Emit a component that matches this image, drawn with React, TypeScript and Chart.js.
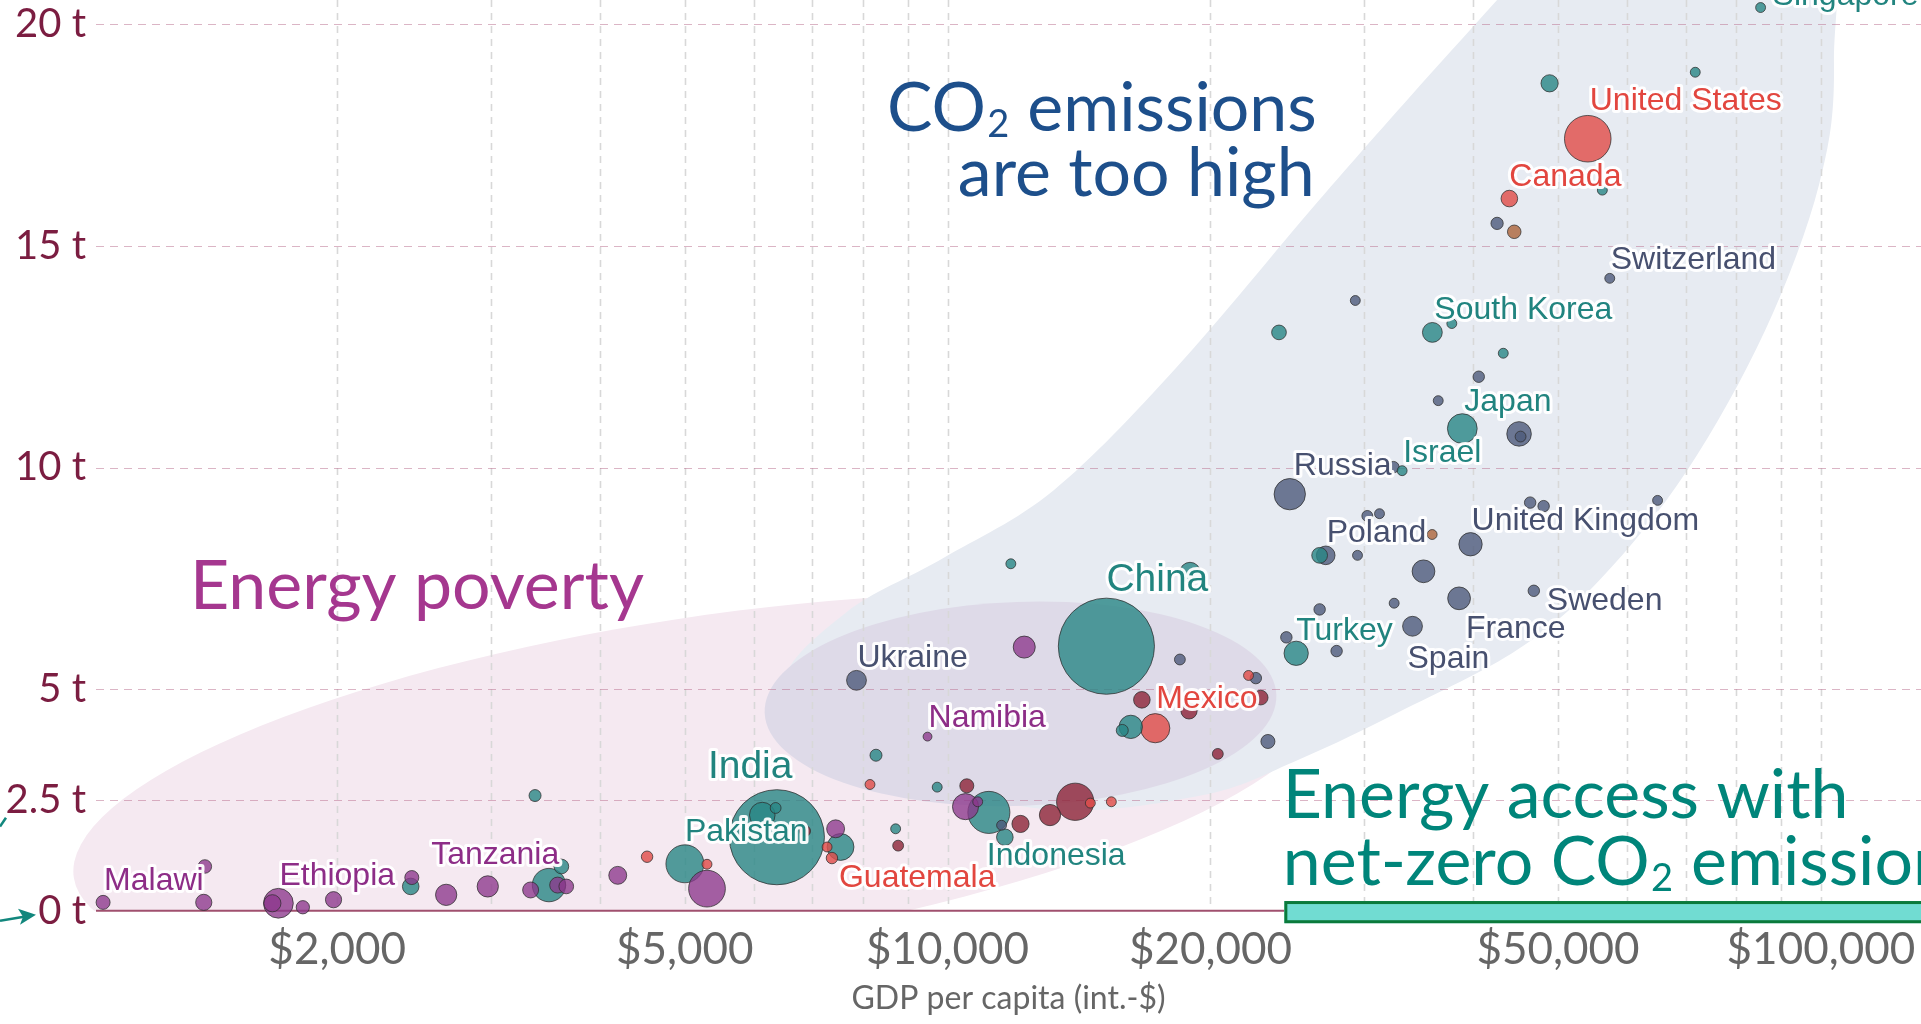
import React, { useEffect, useRef } from "react";
import { Chart, registerables } from "chart.js";

Chart.register(...registerables);

// ---------------- data ----------------
const countries: string[] = [
  // Asia
  "Singapore", "", "", "", "", "South Korea", "", "", "Japan", "Israel", "", "", "", "Turkey", "China", "", "", "", "", "Indonesia", "", "India", "", "", "", "", "Pakistan", "", "", "", "",
  // Europe
  "", "Switzerland", "", "", "", "", "", "", "Russia", "", "", "", "", "", "United Kingdom", "Poland", "", "", "Sweden", "France", "", "", "Spain", "", "", "", "Ukraine", "", "", "",
  // North America
  "United States", "Canada", "Mexico", "", "", "", "", "", "Guatemala", "", "",
  // South America
  "", "", "", "", "", "", "", "", "", "",
  // Africa
  "", "Namibia", "", "", "", "", "", "", "", "", "", "Tanzania", "", "", "Ethiopia", "", "", "", "", "Malawi",
  // Oceania
  "", "",
];

const region: string[] = [
  ...Array(31).fill("AS"),
  ...Array(30).fill("EU"),
  ...Array(11).fill("NA"),
  ...Array(10).fill("SA"),
  ...Array(20).fill("AF"),
  ...Array(2).fill("OC"),
];

const gdpPerCapita: number[] = [
  // Asia
  85300, 48900, 71800, 56200, 23960, 35900, 37790, 43280, 38850, 33150, 26670, 11815, 18950, 25070, 15200, 16210, 15850, 8280, 9730, 11150, 11630, 6376, 6135, 6355, 7541, 8720, 5003, 3370, 3496, 3612, 2428,
  // Europe
  42580, 57310, 29300, 40570, 36460, 45120, 45300, 32400, 24650, 46460, 48140, 65010, 30240, 31230, 39700, 27100, 29470, 35070, 46910, 38520, 32460, 26670, 34070, 24430, 27890, 18450, 7865, 22540, 23270, 11530,
  // North America
  54080, 43980, 17290, 22110, 8150, 14570, 15400, 7278, 7372, 5303, 4528,
  // South America
  16690, 18900, 22830, 20390, 10520, 12120, 13100, 14000, 6868, 8778,
  // Africa
  12240, 9485, 10484, 10827, 7444, 5303, 4191, 3331, 3577, 3659, 2975, 2666, 2435, 1981, 1713, 1686, 1827, 1407, 1411, 1079,
  // Oceania
  44550, 35880,
];

const co2PerCapita: number[] = [
  // Asia
  20.38, 18.67, 18.92, 16.26, 13.05, 13.05, 13.25, 12.58, 10.88, 9.93, 8.02, 7.83, 7.63, 5.81, 5.97, 4.15, 4.07, 3.51, 2.79, 2.22, 1.66, 1.66, 2.16, 2.32, 1.44, 1.85, 1.06, 2.6, 0.58, 1.0, 0.55,
  // Europe
  15.51, 14.27, 13.77, 12.05, 11.51, 10.76, 10.7, 10.01, 9.4, 9.21, 9.13, 9.26, 8.91, 8.96, 8.27, 8.02, 8.02, 7.66, 7.22, 7.05, 6.94, 6.8, 6.42, 6.17, 5.86, 5.67, 5.2, 5.25, 3.82, 1.93,
  // North America
  17.42, 16.07, 4.12, 5.31, 2.85, 2.43, 2.46, 1.44, 1.19, 1.05, 1.22,
  // South America
  4.76, 4.51, 4.81, 3.54, 2.82, 1.96, 2.16, 2.46, 1.8, 1.47,
  // Africa
  5.95, 3.93, 2.35, 2.46, 1.85, 0.5, 0.8, 0.47, 0.58, 0.55, 0.55, 0.36, 0.75, 0.25, 0.17, 0.17, 0.08, 0.19, 1.0, 0.19,
  // Oceania
  15.32, 8.49,
];

const populationMillions: number[] = [
  // Asia
  15, 45, 15, 15, 33, 60, 15, 15, 135, 15, 38, 15, 65, 90, 1410, 83, 22, 22, 15, 270, 42, 1380, 100, 18, 110, 15, 220, 22, 170, 33, 42,
  // Europe
  23, 15, 15, 20, 15, 92, 18, 20, 150, 20, 20, 15, 18, 15, 83, 53, 15, 79, 20, 79, 15, 20, 60, 20, 20, 18, 60, 20, 30, 15,
  // North America
  331, 42, 130, 15, 15, 15, 15, 15, 20, 15, 20,
  // South America
  42, 40, 33, 18, 30, 45, 69, 212, 18, 18,
  // Africa
  74, 12, 104, 15, 49, 206, 49, 39, 39, 33, 69, 69, 30, 40, 135, 45, 27, 40, 28, 30,
  // Oceania
  28, 15,
];

const xTickValues = [2000, 3000, 4000, 5000, 6000, 7000, 8000, 9000, 10000, 20000, 30000, 40000, 50000, 60000, 70000, 80000, 90000, 100000];
const xLabeledTicks = [2000, 5000, 10000, 20000, 50000, 100000];
const yTickValues = [0, 2.5, 5, 10, 15, 20];

// region outlines (in data units: GDP per capita, t CO2)
const highEmissionsGdp = [56750, 42580, 33750, 26490, 18270, 13230, 9890, 7640, 6500, 7890, 12800, 19500, 25300, 33000, 45000, 56000, 70240, 86390, 99560, 103500, 98600];
const highEmissionsCo2 = [23.31, 20.55, 18.34, 15.98, 12.25, 9.49, 7.96, 6.72, 5.06, 3.4, 2.3, 2.6, 3.42, 4.5, 5.9, 7.5, 9.93, 13.11, 16.4, 19.16, 23.31];
const povertyCentre = [5228, 2.9];
const middleCentre = [12120, 4.67];
const netZeroStartGdp = 24300;

// ---------------- styling ----------------
const X_MIN = 1059;
const X_MAX = 130200;
const Y_MAX = 20.55;

const REGION_FILL: Record<string, string> = {
  AS: "rgba(40,134,133,0.8)",
  EU: "rgba(78,90,122,0.8)",
  NA: "rgba(225,78,75,0.82)",
  SA: "rgba(140,35,55,0.8)",
  AF: "rgba(140,55,140,0.78)",
  OC: "rgba(172,100,58,0.8)",
};
const REGION_TEXT: Record<string, string> = {
  AS: "#21847f",
  EU: "#47506f",
  NA: "#e2463f",
  SA: "#8c2337",
  AF: "#8d2d87",
  OC: "#a8643a",
};

const labelPlacement: Record<string, { dx: number; dy: number; big?: boolean }> = {
  Singapore: { dx: 12, dy: -11 },
  "United States": { dx: 2, dy: -38 },
  Canada: { dx: 0, dy: -21 },
  Switzerland: { dx: 1, dy: -18 },
  "South Korea": { dx: 2, dy: -22 },
  Japan: { dx: 2, dy: -26 },
  Israel: { dx: 1, dy: -18 },
  Russia: { dx: 4, dy: -28 },
  Poland: { dx: 1, dy: -22 },
  "United Kingdom": { dx: 1, dy: -23 },
  Sweden: { dx: 13, dy: 10 },
  France: { dx: 7, dy: 31 },
  Spain: { dx: -5, dy: 33 },
  Turkey: { dx: 0, dy: -22 },
  China: { dx: 0, dy: -66, big: true },
  Mexico: { dx: 1, dy: -29 },
  Ukraine: { dx: 1, dy: -22 },
  Namibia: { dx: 1, dy: -18 },
  India: { dx: -69, dy: -70, big: true },
  Pakistan: { dx: 0, dy: -32 },
  Indonesia: { dx: -2, dy: 44 },
  Guatemala: { dx: 7, dy: 20 },
  Tanzania: { dx: -15, dy: -40 },
  Ethiopia: { dx: 1, dy: -27 },
  Malawi: { dx: 1, dy: -21 },
};

function closedSpline(ctx: CanvasRenderingContext2D, pts: number[][]) {
  const n = pts.length;
  ctx.moveTo(pts[0][0], pts[0][1]);
  for (let i = 0; i < n; i++) {
    const p0 = pts[(i - 1 + n) % n];
    const p1 = pts[i];
    const p2 = pts[(i + 1) % n];
    const p3 = pts[(i + 2) % n];
    ctx.bezierCurveTo(
      p1[0] + (p2[0] - p0[0]) / 6,
      p1[1] + (p2[1] - p0[1]) / 6,
      p2[0] - (p3[0] - p1[0]) / 6,
      p2[1] - (p3[1] - p1[1]) / 6,
      p2[0],
      p2[1]
    );
  }
  ctx.closePath();
}

// text with subscript segments: [text, isSubscript]
function drawRich(
  ctx: CanvasRenderingContext2D,
  segs: [string, boolean][],
  x: number,
  y: number,
  size: number,
  align: "left" | "right"
) {
  const main = `${size}px Lato, sans-serif`;
  const sub = `${Math.round(size * 0.56)}px Lato, sans-serif`;
  const widths = segs.map(([t, s]) => {
    ctx.font = s ? sub : main;
    return ctx.measureText(t).width;
  });
  const total = widths.reduce((a, b) => a + b, 0);
  let cx = align === "right" ? x - total : x;
  ctx.textAlign = "left";
  segs.forEach(([t, s], i) => {
    ctx.font = s ? sub : main;
    ctx.fillText(t, cx + (s ? size * 0.02 : 0), s ? y + size * 0.09 : y);
    cx += widths[i] + (s ? size * 0.03 : 0);
  });
}

const backgroundPlugin = {
  id: "backgroundShapes",
  beforeDatasetsDraw(chart: any) {
    const { ctx, chartArea: ca } = chart;
    const x = chart.scales.x;
    const y = chart.scales.y;
    ctx.save();
    ctx.beginPath();
    ctx.rect(0, 0, ca.right, ca.bottom);
    ctx.clip();

    // energy poverty ellipse
    ctx.beginPath();
    ctx.ellipse(x.getPixelForValue(povertyCentre[0]), y.getPixelForValue(povertyCentre[1]), 635, 165, -0.151, 0, Math.PI * 2);
    ctx.fillStyle = "#f5e9f1";
    ctx.fill();

    // high emissions region
    const pts = highEmissionsGdp.map((g, i) => [x.getPixelForValue(g), y.getPixelForValue(highEmissionsCo2[i])]);
    ctx.beginPath();
    closedSpline(ctx, pts);
    ctx.fillStyle = "#e7ebf2";
    ctx.fill();

    // middle ellipse
    ctx.beginPath();
    ctx.ellipse(x.getPixelForValue(middleCentre[0]), y.getPixelForValue(middleCentre[1]), 256, 102, -0.035, 0, Math.PI * 2);
    ctx.fillStyle = "#dedae8";
    ctx.fill();
    ctx.restore();

    ctx.save();
    ctx.beginPath();
    ctx.rect(ca.left, 0, ca.right - ca.left, ca.bottom);
    ctx.clip();
    // vertical grid
    ctx.setLineDash([7, 6]);
    ctx.lineWidth = 1.6;
    ctx.strokeStyle = "#d8d8d8";
    xTickValues.forEach((v) => {
      const px = Math.round(x.getPixelForValue(v)) + 0.5;
      ctx.beginPath();
      ctx.moveTo(px, 0);
      ctx.lineTo(px, ca.bottom);
      ctx.stroke();
    });
    // horizontal grid
    ctx.setLineDash([8, 6]);
    ctx.lineWidth = 1.2;
    ctx.strokeStyle = "rgba(190,120,150,0.55)";
    yTickValues.forEach((v) => {
      if (v === 0) return;
      const py = Math.round(y.getPixelForValue(v)) + 0.5;
      ctx.beginPath();
      ctx.moveTo(ca.left, py);
      ctx.lineTo(ca.right, py);
      ctx.stroke();
    });
    ctx.restore();

    // zero axis line
    ctx.save();
    const y0 = y.getPixelForValue(0);
    ctx.strokeStyle = "#a0506e";
    ctx.lineWidth = 2;
    ctx.beginPath();
    ctx.moveTo(ca.left, y0);
    ctx.lineTo(x.getPixelForValue(netZeroStartGdp), y0);
    ctx.stroke();
    ctx.restore();
  },
};

const foregroundPlugin = {
  id: "foreground",
  afterDatasetsDraw(chart: any) {
    const { ctx, chartArea: ca } = chart;
    const x = chart.scales.x;
    const y = chart.scales.y;
    ctx.save();

    // net-zero bar
    const bx = x.getPixelForValue(netZeroStartGdp);
    const bTop = y.getPixelForValue(0.22);
    const bBot = y.getPixelForValue(-0.28);
    ctx.fillStyle = "#71dcd2";
    ctx.fillRect(bx, bTop, ca.right + 10 - bx, bBot - bTop);
    ctx.strokeStyle = "#0b7a3b";
    ctx.lineWidth = 3;
    ctx.strokeRect(bx + 1.5, bTop + 1.5, ca.right + 10 - bx, bBot - bTop - 3);

    // arrows at the left edge
    const y0 = y.getPixelForValue(0);
    ctx.strokeStyle = "#12877d";
    ctx.fillStyle = "#12877d";
    ctx.lineWidth = 2.5;
    ctx.beginPath();
    ctx.moveTo(0, y0 + 10);
    ctx.lineTo(24, y0 + 6);
    ctx.stroke();
    ctx.beginPath();
    ctx.moveTo(36, y0 + 4);
    ctx.lineTo(18, y0 - 2);
    ctx.lineTo(23, y0 + 6);
    ctx.lineTo(20, y0 + 14);
    ctx.closePath();
    ctx.fill();
    ctx.beginPath();
    ctx.moveTo(0, y.getPixelForValue(1.9));
    ctx.lineTo(6, y.getPixelForValue(2.1));
    ctx.stroke();

    // country labels
    ctx.lineJoin = "round";
    ctx.textBaseline = "middle";
    ctx.textAlign = "left";
    countries.forEach((name, i) => {
      if (!name) return;
      const p = labelPlacement[name];
      if (!p) return;
      const px = x.getPixelForValue(gdpPerCapita[i]) + p.dx;
      const py = y.getPixelForValue(co2PerCapita[i]) + p.dy;
      ctx.font = `${p.big ? 39 : 32}px "Liberation Sans", Arial, sans-serif`;
      ctx.lineWidth = 6;
      ctx.strokeStyle = "rgba(255,255,255,0.95)";
      ctx.strokeText(name, px, py);
      ctx.fillStyle = REGION_TEXT[region[i]];
      ctx.fillText(name, px, py);
    });

    // big annotations
    ctx.textBaseline = "alphabetic";
    ctx.fillStyle = "#1d4f8b";
    drawRich(ctx, [["CO", false], ["2", true], [" emissions", false]], x.getPixelForValue(26320), y.getPixelForValue(17.59), 68, "right");
    drawRich(ctx, [["are too high", false]], x.getPixelForValue(26320), y.getPixelForValue(16.12), 68, "right");

    ctx.fillStyle = "#a5378f";
    drawRich(ctx, [["Energy poverty", false]], x.getPixelForValue(1357), y.getPixelForValue(6.8), 68, "left");

    ctx.fillStyle = "#00857a";
    drawRich(ctx, [["Energy access with", false]], x.getPixelForValue(24200), y.getPixelForValue(2.1), 68, "left");
    drawRich(ctx, [["net-zero CO", false], ["2", true], [" emissions", false]], x.getPixelForValue(24200), y.getPixelForValue(0.58), 68, "left");
    ctx.restore();
  },
};

export default function App() {
  const ref = useRef<HTMLCanvasElement | null>(null);

  useEffect(() => {
    if (!ref.current) return;
    const order = countries.map((_, i) => i).sort((a, b) => populationMillions[b] - populationMillions[a]);
    const chart = new Chart(ref.current, {
      type: "bubble",
      data: {
        datasets: [
          {
            label: "Countries",
            data: order.map((i) => ({ x: gdpPerCapita[i], y: co2PerCapita[i], r: 1.28 * Math.sqrt(populationMillions[i]) })),
            backgroundColor: order.map((i) => REGION_FILL[region[i]]),
            borderColor: "rgba(45,45,45,0.75)",
            borderWidth: 1,
            hoverRadius: 0,
            clip: false as any,
          },
        ],
      },
      options: {
        animation: false,
        responsive: true,
        maintainAspectRatio: false,
        events: [],
        layout: { autoPadding: false, padding: { left: 6, right: 0, top: 0, bottom: 0 } },
        plugins: { legend: { display: false }, tooltip: { enabled: false } },
        scales: {
          x: {
            type: "logarithmic",
            min: X_MIN,
            max: X_MAX,
            afterBuildTicks: (s: any) => {
              s.ticks = xTickValues.map((v) => ({ value: v }));
            },
            afterFit: (s: any) => {
              s.paddingLeft = 0;
              s.paddingRight = 0;
            },
            ticks: {
              autoSkip: false,
              maxRotation: 0,
              color: "#666666",
              font: { family: "Lato", size: 44, lineHeight: 1.05 },
              padding: 15.5,
              callback: (v: any) => (xLabeledTicks.includes(Number(v)) ? "$" + Number(v).toLocaleString("en-US") : ""),
            },
            grid: { display: false, drawTicks: false },
            border: { display: false },
            title: {
              display: true,
              text: "GDP per capita (int.-$)",
              color: "#666666",
              font: { family: "Lato", size: 32, lineHeight: 1.0 },
              padding: { top: -5, bottom: 9 },
            },
          },
          y: {
            type: "linear",
            min: 0,
            max: Y_MAX,
            afterBuildTicks: (s: any) => {
              s.ticks = yTickValues.map((v) => ({ value: v }));
            },
            afterFit: (s: any) => {
              s.width = 90;
              s.paddingTop = 0;
              s.paddingBottom = 0;
            },
            ticks: {
              color: "#7b1d41",
              font: { family: "Lato", size: 40 },
              padding: 10,
              callback: (v: any) => `${v} t`,
            },
            grid: { display: false, drawTicks: false },
            border: { display: false },
          },
        },
      },
      plugins: [backgroundPlugin, foregroundPlugin],
    });
    return () => chart.destroy();
  }, []);

  return (
    <div style={{ position: "fixed", left: 0, top: 0, width: "1921px", height: "1024px", background: "#ffffff" }}>
      <canvas ref={ref} />
    </div>
  );
}
